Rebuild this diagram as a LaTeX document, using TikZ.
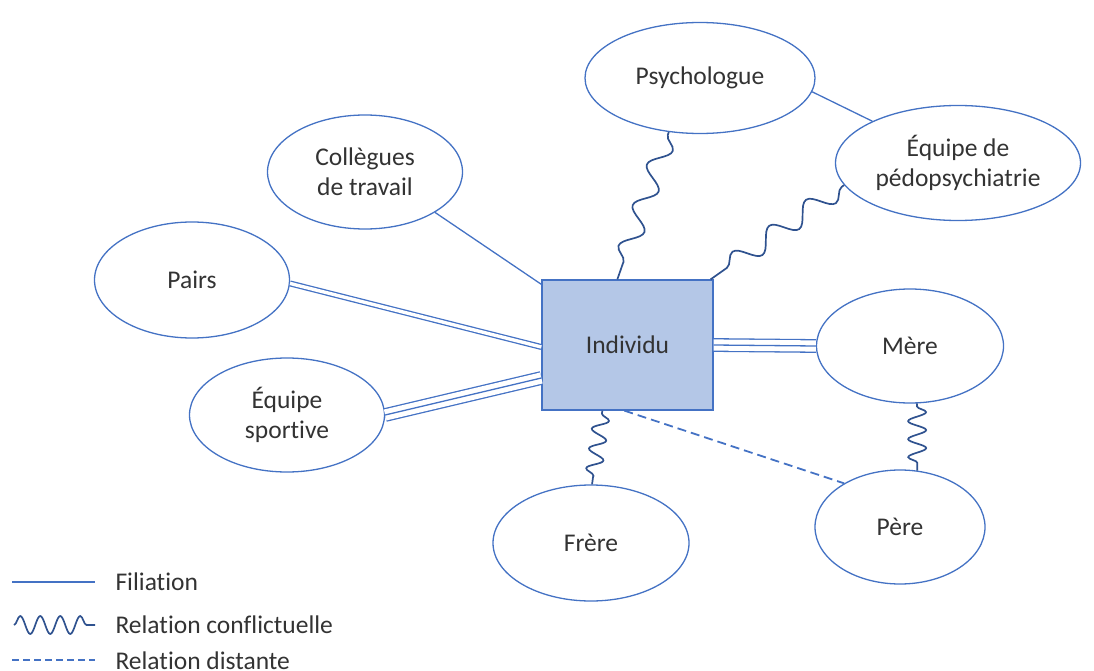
\documentclass[tikz,border=0pt]{standalone}
\usepackage{fontspec}
\setmainfont{Carlito}[Ligatures=NoCommon]
\usetikzlibrary{shapes.geometric,decorations.pathmorphing,calc}
\definecolor{edge}{HTML}{4472C4}
\definecolor{wave}{HTML}{2F528F}
\definecolor{boxfill}{HTML}{B4C7E7}
\definecolor{ink}{HTML}{333333}
\begin{document}
\begin{tikzpicture}[x=1pt,y=-1pt,
  every node/.style={font=\fontsize{25.5}{30}\selectfont, text=ink},
  bubble/.style={ellipse, draw=edge, line width=1.3pt, inner sep=0pt, fill=white},
  every label/.style={align=center},
  filiation/.style={draw=edge, line width=1.3pt},
  twin/.style={draw=edge, line width=1.3pt, double=white, double distance=3.4pt},
  triplet/.style={draw=edge, line width=1.3pt, double=white, double distance=11.2pt},
  conflict/.style={draw=wave, line width=1.7pt, decorate,
    decoration={snake, segment length=#1, amplitude=9pt, pre length=3pt, post length=3pt}},
  conflict/.default=43pt,
  distant/.style={draw=edge, line width=1.8pt, dash pattern=on 9pt off 5pt}]
\useasboundingbox (0,0) rectangle (1094,671);

% central person
\node[draw=edge, line width=1.3pt, fill=boxfill, minimum width=171pt, minimum height=130pt] (ind) at (627.5,345) {Individu};

% surrounding entities
\node[bubble, minimum width=230pt, minimum height=111pt, label={[name=psyT]center:Psychologue}] (psy) at (700,78) {};
\node[bubble, minimum width=245pt, minimum height=115pt, label={[name=pedoT]center:{Équipe de\\pédopsychiatrie}}] (pedo) at (958,163) {};
\node[bubble, minimum width=195pt, minimum height=114pt, label={[name=colT]center:{Collègues\\de travail}}] (col) at (365,172) {};
\node[bubble, minimum width=195pt, minimum height=116pt, label={[name=pairsT]center:Pairs}] (pairs) at (192,280) {};
\node[bubble, minimum width=195pt, minimum height=114pt, label={[name=eqsT]center:{Équipe\\sportive}}] (eqs) at (287,415) {};
\node[bubble, minimum width=187pt, minimum height=114pt, label={[name=mereT]center:Mère}] (mere) at (910,346) {};
\node[bubble, minimum width=170pt, minimum height=114pt, label={[name=pereT]center:Père}] (pere) at (900,527) {};
\node[bubble, minimum width=196pt, minimum height=116pt, label={[name=freT]center:Frère}] (fre) at (591,543) {};

% filiation links
\draw[filiation] (psy.353) -- (pedo.154);
\draw[filiation] (col.330) -- ($(ind.north west)+(0,5)$);
\draw[twin] (pairs.-2) -- ($(ind.west)+(0,2)$);
\draw[triplet] (eqs.0) -- ($(ind.west)+(0,33)$);
\draw[filiation] (eqs.0) -- ($(ind.west)+(0,33)$);
\draw[triplet] (ind.east) -- (mere.west);
\draw[filiation] (ind.east) -- (mere.west);

% conflictual links
\draw[conflict=43pt, decoration={amplitude=10pt}] (psy.240) -- ($(ind.north west)+(76,0)$);
\draw[conflict=45pt, decoration={amplitude=10pt}] (pedo.191) -- ($(ind.north east)+(-3,0)$);
\draw[conflict=20pt, decoration={amplitude=8pt}] ($(ind.south west)+(61,0)$) -- (fre.89);
\draw[conflict=18pt] (mere.277) -- (pere.73);

% distant link
\draw[distant] ($(ind.south west)+(83,0)$) -- (pere.142);

% legend
\coordinate (la1) at (12,582);  \coordinate (lb1) at (95,582);
\coordinate (la2) at (14,625);  \coordinate (lb2) at (95,625);
\coordinate (la3) at (12,660);  \coordinate (lb3) at (95,660);
\draw[filiation] (la1) -- (lb1);
\draw[conflict=20pt, decoration={amplitude=9pt, pre length=0pt, post length=0pt}] (la2) -- (lb2);
\draw[distant, line width=1.3pt, dash pattern=on 7pt off 4pt] (la3) -- (lb3);
\node[anchor=west] (lt1) at (112,582) {Filiation};
\node[anchor=west] (lt2) at (112,625) {Relation conflictuelle};
\node[anchor=west] (lt3) at (112,661) {Relation distante};
\end{tikzpicture}
\end{document}
